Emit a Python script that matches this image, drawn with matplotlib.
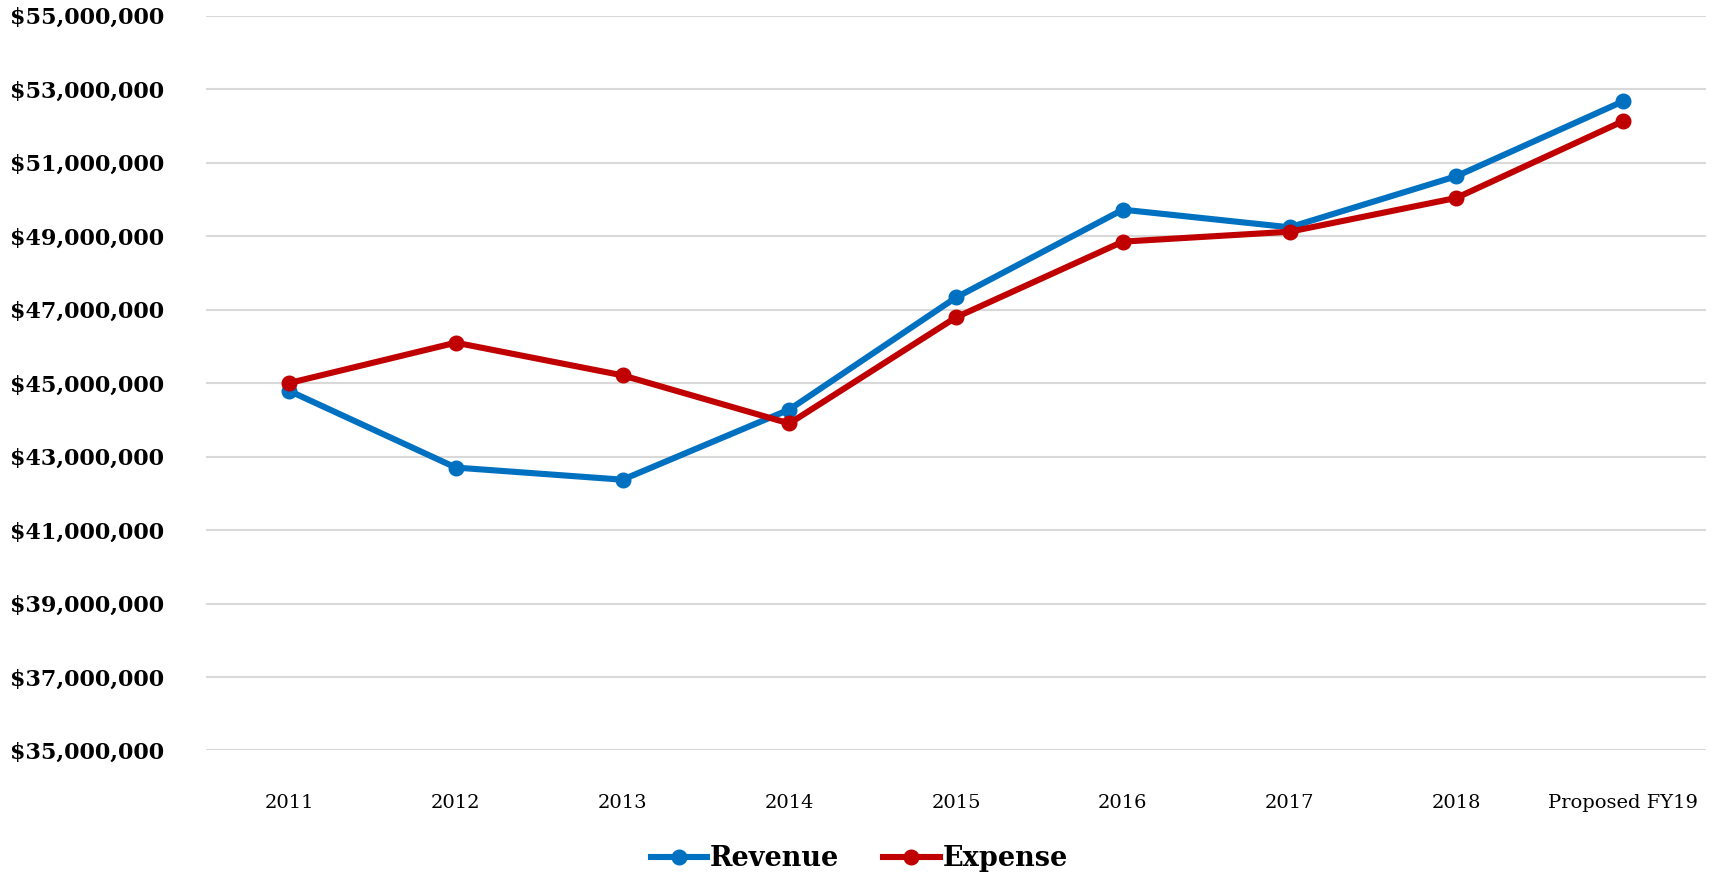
import matplotlib.pyplot as plt
from matplotlib.ticker import FuncFormatter

# Revenue vs expense by fiscal year
years = ['2011', '2012', '2013', '2014', '2015', '2016', '2017', '2018', 'Proposed FY19']
revenue = [44.79e6, 42.70e6, 42.37e6, 44.28e6, 47.33e6, 49.72e6, 49.24e6, 50.63e6, 52.67e6]
expense = [45.00e6, 46.10e6, 45.21e6, 43.90e6, 46.79e6, 48.85e6, 49.12e6, 50.04e6, 52.13e6]
y_ticks = [35e6, 37e6, 39e6, 41e6, 43e6, 45e6, 47e6, 49e6, 51e6, 53e6, 55e6]

BLUE = '#0070C0'
RED = '#C00000'

plt.rcParams['font.family'] = ['DejaVu Serif']

fig = plt.figure(figsize=(17.18, 8.76), dpi=100)
ax = fig.add_axes([0.1197, 0.1433, 0.8736, 0.8388])

x = range(len(years))
ax.plot(x, revenue, color=BLUE, lw=4.4, marker='o', ms=10.5, label='Revenue', zorder=3)
ax.plot(x, expense, color=RED, lw=4.4, marker='o', ms=10.5, label='Expense', zorder=3)

ax.set_xlim(-0.5, len(years) - 0.5)
ax.set_ylim(y_ticks[0], y_ticks[-1])
ax.set_yticks(y_ticks)
ax.yaxis.set_major_formatter(FuncFormatter(lambda v, p: f'${v:,.0f}'))
ax.grid(axis='y', color='#d9d9d9', lw=1.5, zorder=0)
ax.set_axisbelow(True)

ax.set_xticks(list(x))
ax.set_xticklabels(years, fontsize=14)
for lbl in ax.get_yticklabels():
    lbl.set_fontsize(16)
    lbl.set_fontweight('bold')
ax.tick_params(axis='both', length=0)
ax.tick_params(axis='y', pad=30)
ax.tick_params(axis='x', pad=31)
for s in ax.spines.values():
    s.set_visible(False)

fig.legend(loc='center', bbox_to_anchor=(0.5, 0.02), ncol=2, frameon=False,
           prop={'size': 19.5, 'weight': 'bold'}, handlelength=2.1,
           handletextpad=0.1, columnspacing=1.6)

fig.savefig('out.png', dpi=100)
